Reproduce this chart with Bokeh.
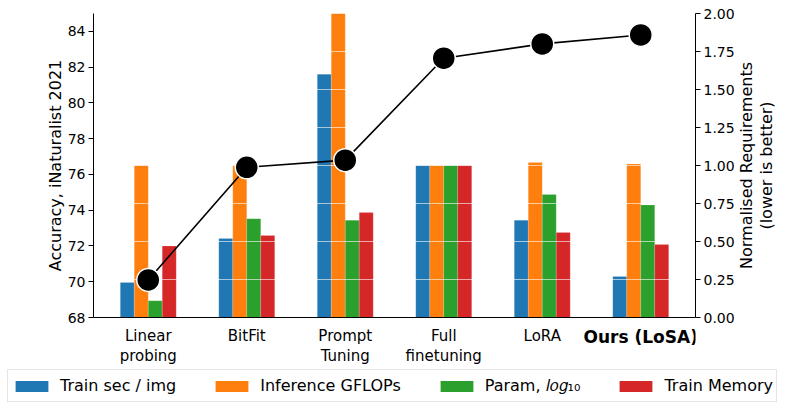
import math
from bokeh.plotting import figure
from bokeh.layouts import column, row
from bokeh.models import (Range1d, LinearAxis, FixedTicker, Grid, Legend, LegendItem,
                          NumeralTickFormatter, ColumnDataSource)
from bokeh.core.properties import value
from bokeh.embed import file_html
from bokeh.resources import INLINE

methods = ["Linear\nprobing", "BitFit", "Prompt\nTuning", "Full\nfinetuning", "LoRA", "Ours (LoSA)"]
accuracy = [70.1, 76.4, 76.8, 82.5, 83.3, 83.8]
train_sec = [0.23, 0.52, 1.60, 1.00, 0.64, 0.27]
gflops = [1.00, 1.00, 2.00, 1.00, 1.02, 1.01]
params_log = [0.11, 0.65, 0.64, 1.00, 0.81, 0.74]
train_mem = [0.47, 0.54, 0.69, 1.00, 0.56, 0.48]
series_names = ["Train sec / img", "Inference GFLOPs", "Param, \U0001D459\U0001D45C\U0001D454\u2081\u2080", "Train Memory"]
colors = ["#1f77b4", "#ff7f0e", "#2ca02c", "#d62728"]
left_ticks = [68, 70, 72, 74, 76, 78, 80, 82, 84]
right_ticks = [0.0, 0.25, 0.5, 0.75, 1.0, 1.25, 1.5, 1.75, 2.0]
left_label = "Accuracy, iNaturalist 2021"
right_label = "Normalised Requirements\n(lower is better)"

FONT = "DejaVu Sans"
xs = list(range(len(methods)))
W = 0.142
xr = Range1d(-0.556, 5.556)

# ---------------- main chart ----------------
p = figure(frame_width=602, frame_height=304, output_backend="svg", toolbar_location=None,
           x_range=xr, y_range=Range1d(68, 85),
           min_border_left=93, min_border_right=40, min_border_top=13, min_border_bottom=9)
p.outline_line_color = None
p.xgrid.visible = False
p.ygrid.visible = False
p.extra_y_ranges = {"req": Range1d(0, 2)}

bar_series = [train_sec, gflops, params_log, train_mem]
for i, (vals, c) in enumerate(zip(bar_series, colors)):
    src = ColumnDataSource(dict(x=[x + (i - 1.5) * W for x in xs], top=vals))
    p.vbar(x="x", top="top", bottom=0, width=W, source=src, y_range_name="req",
           fill_color=c, line_color="white", line_width=0.5, line_alpha=0.3, level="image")

right_axis = LinearAxis(y_range_name="req", ticker=FixedTicker(ticks=right_ticks),
                        formatter=NumeralTickFormatter(format="0.00"))
p.add_layout(right_axis, "right")
g = Grid(dimension=1, ticker=FixedTicker(ticks=right_ticks), y_range_name="req",
         grid_line_color="white", grid_line_alpha=0.6, grid_line_width=1, level="underlay")
p.add_layout(g)

p.line(xs, accuracy, line_color="black", line_width=1.6)
p.scatter(xs, accuracy, size=23, fill_color="black", line_color="white", line_width=1.5)

ya = p.yaxis[0]
ya.ticker = FixedTicker(ticks=left_ticks)
ya.axis_label = left_label
for ax in [ya, right_axis]:
    ax.major_label_text_font = FONT
    ax.major_label_text_font_size = "14px"
    ax.axis_label_text_font = FONT
    ax.axis_label_text_font_size = "16px"
    ax.axis_label_text_font_style = "normal"
    ax.major_tick_out = 5
    ax.major_tick_in = 0
    ax.minor_tick_out = 0
    ax.minor_tick_in = 0
    ax.major_label_standoff = 3
    ax.axis_line_color = "black"
    ax.major_tick_line_color = "black"
    ax.major_label_text_color = "black"
    ax.axis_label_text_color = "black"
ya.axis_label_standoff = 0

xa = p.xaxis[0]
xa.ticker = FixedTicker(ticks=[])
xa.major_tick_out = 0
xa.major_tick_in = 0
xa.minor_tick_out = 0
xa.minor_tick_in = 0
xa.major_label_standoff = 0
xa.axis_line_color = "black"

# ---------------- right axis title ----------------
pr = figure(frame_width=54, frame_height=304, output_backend="svg", toolbar_location=None,
            x_range=Range1d(0, 54), y_range=Range1d(0, 2),
            x_axis_type=None, y_axis_type=None,
            min_border_left=0, min_border_right=0, min_border_top=13, min_border_bottom=9)
pr.outline_line_color = None
pr.grid.visible = False
pr.text(x=[19], y=[1], text=[right_label], angle=math.pi / 2, text_align="center",
        text_baseline="middle", text_font=value(FONT), text_font_size="16px",
        text_line_height=1.05, text_color="black")

# ---------------- category labels ----------------
pl = figure(frame_width=602, frame_height=40, output_backend="svg", toolbar_location=None,
            x_range=xr, y_range=Range1d(0, 40), x_axis_type=None, y_axis_type=None,
            min_border_left=93, min_border_right=94, min_border_top=0, min_border_bottom=0)
pl.outline_line_color = None
pl.grid.visible = False
pl.text(x=xs[:5], y=[40] * 5, text=methods[:5], y_offset=0, text_align="center",
        text_baseline="top", text_font=value(FONT), text_font_size="15px",
        text_line_height=1.15, text_color="black")
pl.text(x=xs[5:], y=[40], text=methods[5:], y_offset=0, text_align="center",
        text_baseline="top", text_font=value(FONT), text_font_size="17px",
        text_font_style="bold", text_color="black")

# ---------------- legend ----------------
pg = figure(frame_width=789, frame_height=43, output_backend="svg", toolbar_location=None,
            x_range=Range1d(0, 1), y_range=Range1d(0, 1), x_axis_type=None, y_axis_type=None,
            min_border=0)
pg.outline_line_color = None
pg.grid.visible = False
items = []
for name, c in zip(series_names, colors):
    r = pg.vbar(x=[0.5], top=[0], bottom=0, width=0.1, fill_color=c, line_color=None)
    items.append(LegendItem(label=name, renderers=[r]))
legend = Legend(items=items, orientation="horizontal", location=(7, 7),
                glyph_width=41, glyph_height=14, label_standoff=8, spacing=35,
                padding=3, margin=0, label_height=25,
                label_text_font=FONT, label_text_font_size="16px",
                label_text_color="black", border_line_color="#cccccc", border_line_width=1,
                background_fill_alpha=1.0)
pg.add_layout(legend, "center")

layout = column(row(p, pr), pl, pg)
open("out.html", "w").write(file_html(layout, INLINE))
